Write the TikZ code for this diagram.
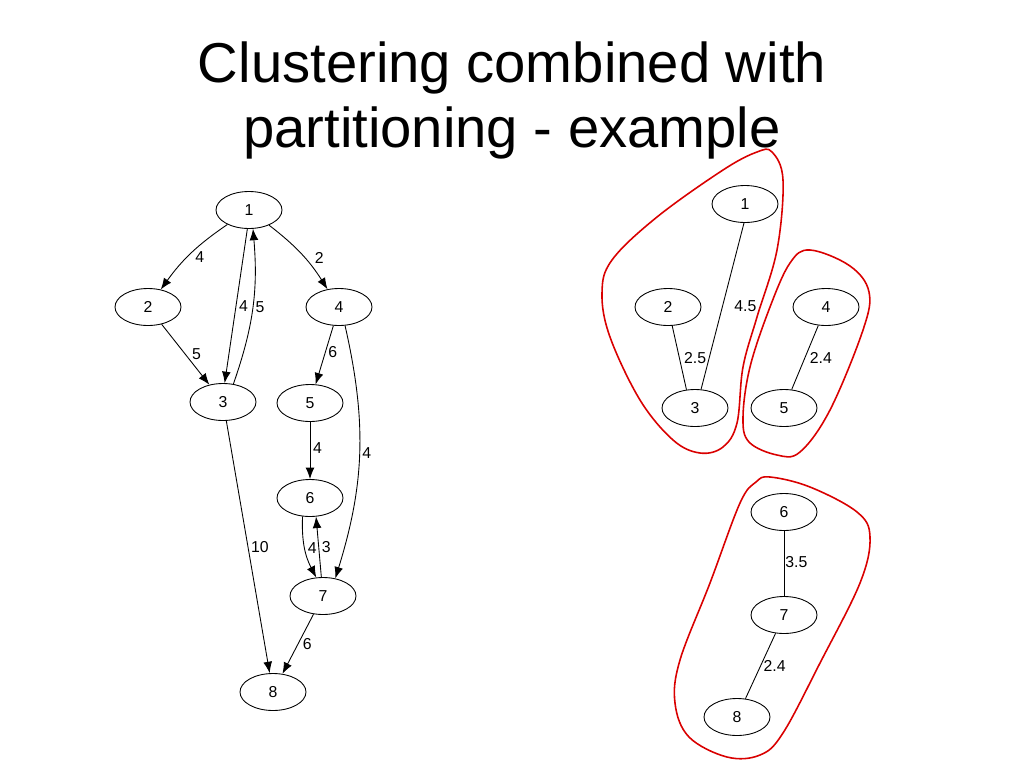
\documentclass[tikz,border=0pt]{standalone}
\usepackage{fontspec}
\setmainfont{Liberation Sans}
\usepackage{xcolor}
\usetikzlibrary{shapes.geometric,arrows.meta}

\begin{document}
\begin{tikzpicture}[x=0.02cm, y=-0.02cm,
            vertex/.style = {draw, ellipse, line width=0.5pt, minimum width=1.32cm, minimum height=0.74cm, inner sep=0pt, font=\fontsize{9}{10}\selectfont},
            lbl/.style = {right, inner sep=1.5pt, font=\fontsize{9}{10}\selectfont},
            arc/.style = {draw, line width=0.5pt, -{Latex[length=6.5pt,width=5pt]}},
            link/.style = {draw, line width=0.5pt},
            cluster/.style = {draw=red!85!black, line width=0.9pt}
        ]
        \useasboundingbox (0,0) rectangle (1024,768);
        \node[align=center, font=\fontsize{32}{37}\selectfont] (title) at (512,100) {Clustering combined with\\partitioning - example};

        % directed graph
        \node[vertex] (L1) at (249,210) {1};
        \node[vertex] (L2) at (148,307) {2};
        \node[vertex] (L3) at (223,402) {3};
        \node[vertex] (L4) at (339,307) {4};
        \node[vertex] (L5) at (310,403) {5};
        \node[vertex] (L6) at (310,498) {6};
        \node[vertex] (L7) at (323,596) {7};
        \node[vertex] (L8) at (273,692) {8};
        \path (L1) edge[arc, bend right=10] node[lbl, pos=0.56, xshift=3pt] {4} (L2);
        \path (L1.-95) edge[arc] node[lbl, pos=0.5] {4} (L3.85);
        \path (L3.60) edge[arc, bend right=12] node[lbl, pos=0.5] {5} (L1.-78);
        \path (L1) edge[arc, bend left=10] node[lbl, pos=0.56, xshift=4pt] {2} (L4);
        \path (L2) edge[arc] node[lbl, pos=0.5, xshift=2pt] {5} (L3);
        \path (L4) edge[arc] node[lbl, pos=0.45] {6} (L5);
        \path (L5) edge[arc] node[lbl, pos=0.45] {4} (L6);
        \path (L4.-72) edge[arc, bend left=15] node[lbl, pos=0.5] {4} (L7.55);
        \path (L3.-80) edge[arc] node[lbl, pos=0.5] {10} (L8.100);
        \path (L6.-112) edge[arc, bend right=15] node[lbl, pos=0.5] {4} (L7.110);
        \path (L7.95) edge[arc] node[lbl, pos=0.5] {3} (L6.-72);
        \path (L7) edge[arc] node[lbl, pos=0.5, xshift=1pt] {6} (L8);

        % clustered graph
        \node[vertex] (R1) at (745,204) {1};
        \node[vertex] (R2) at (668,307) {2};
        \node[vertex] (R3) at (695,408) {3};
        \node[vertex] (R4) at (826,307) {4};
        \node[vertex] (R5) at (784,408) {5};
        \node[vertex] (R6) at (784,512) {6};
        \node[vertex] (R7) at (784,615) {7};
        \node[vertex] (R8) at (737,717) {8};
        \path (R1.-93) edge[link] node[lbl, pos=0.5, xshift=5pt] {4.5} (R3.72);
        \path (R2) edge[link] node[lbl, pos=0.5, xshift=1pt] {2.5} (R3.115);
        \path (R4) edge[link] node[lbl, pos=0.5, xshift=1pt] {2.4} (R5);
        \path (R6) edge[link] node[lbl, pos=0.48, inner sep=0.5pt] {3.5} (R7);
        \path (R7) edge[link] node[lbl, pos=0.5] {2.4} (R8);

        % clusters
        \draw[cluster] plot[smooth cycle, tension=0.6] coordinates {(772,152) (783,180) (777,250) (757,317) (743,367) (737,423) (723,447) (700,453) (673,440) (640,400) (610,337) (602,293) (612,260) (657,217) (723,170) (757,152)};
        \draw[cluster] plot[smooth cycle, tension=0.6] coordinates {(810,250) (850,266) (869,292) (863,330) (830,410) (800,452) (777,455) (749,442) (743,417) (750,367) (770,307) (790,263)};
        \draw[cluster] plot[smooth cycle, tension=0.6] coordinates {(770,477) (810,487) (857,512) (870,537) (860,583) (820,663) (783,733) (760,755) (727,757) (689,737) (675,703) (680,660) (710,583) (740,503) (756,482)};
    \end{tikzpicture}
\end{document}
